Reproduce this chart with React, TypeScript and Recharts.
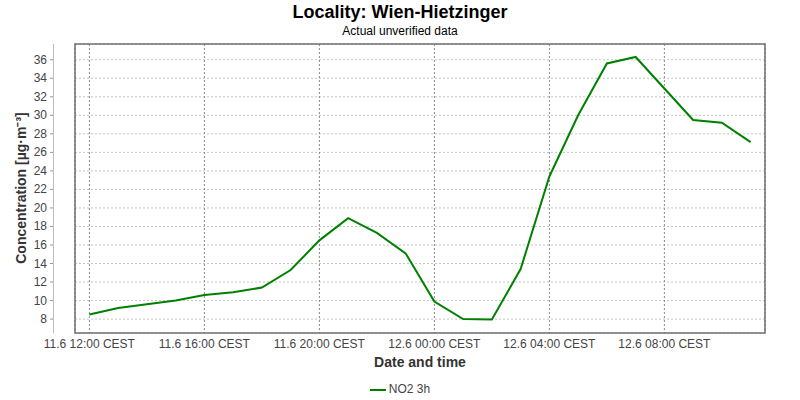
import React from 'react';
import {
	LineChart,
	Line,
	XAxis,
	YAxis,
	CartesianGrid,
	ReferenceArea,
} from 'recharts';

// hourly timestamps (CEST) and NO2 3h concentration values
const TIMES = [
	'11.6 12:00', '11.6 13:00', '11.6 14:00', '11.6 15:00', '11.6 16:00', '11.6 17:00',
	'11.6 18:00', '11.6 19:00', '11.6 20:00', '11.6 21:00', '11.6 22:00', '11.6 23:00',
	'12.6 00:00', '12.6 01:00', '12.6 02:00', '12.6 03:00', '12.6 04:00', '12.6 05:00',
	'12.6 06:00', '12.6 07:00', '12.6 08:00', '12.6 09:00', '12.6 10:00', '12.6 11:00',
];
const NO2 = [
	8.5, 9.2, 9.6, 10.0, 10.6, 10.9,
	11.4, 13.3, 16.5, 18.9, 17.3, 15.1,
	9.9, 8.0, 7.95, 13.4, 23.4, 30.0,
	35.6, 36.3, 32.9, 29.5, 29.2, 27.1,
];
const X_TICKS = [0, 4, 8, 12, 16, 20];
const Y_TICKS = [8, 10, 12, 14, 16, 18, 20, 22, 24, 26, 28, 30, 32, 34, 36];
const X_DOMAIN = [-0.5, 23.5];
const Y_DOMAIN = [6.5, 37.7];

const data = TIMES.map((t, i) => ({ h: i, time: t, no2: NO2[i] }));

const FONT = '"Liberation Sans", Arial, sans-serif';
const PLOT_LEFT = 75;
const PLOT_TOP = 44;
const PLOT_BOTTOM = 333;

const YTick = (props: any) => {
	const { y, payload } = props;
	return (
		<g>
			<line x1={50} x2={53} y1={y} y2={y} stroke="#999" />
			<text x={47} y={y + 4} textAnchor="end" fontSize={12} fill="#444" fontFamily={FONT}>
				{payload.value}
			</text>
		</g>
	);
};

const Legend = () => (
	<div
		style={{
			position: 'absolute',
			left: 0,
			top: 381,
			width: 800,
			textAlign: 'center',
			fontSize: 12,
			color: '#444',
			lineHeight: '16px',
		}}
	>
		<span
			style={{
				display: 'inline-block',
				width: 16,
				height: 2,
				background: '#008000',
				verticalAlign: 'middle',
				marginRight: 3,
			}}
		/>
		NO2 3h
	</div>
);

export default function App() {
	return (
		<div style={{ position: 'absolute', left: 0, top: 0, width: 800, height: 400, fontFamily: FONT, background: '#fff' }}>
			<div style={{ position: 'absolute', left: 0, top: 0, width: 800, textAlign: 'center', fontWeight: 'bold', fontSize: 18, lineHeight: '24px', color: '#000' }}>
				Locality: Wien-Hietzinger
			</div>
			<div style={{ position: 'absolute', left: 0, top: 24, width: 800, textAlign: 'center', fontSize: 12, lineHeight: '14px', color: '#000' }}>
				Actual unverified data
			</div>
			<LineChart
				width={800}
				height={400}
				data={data}
				margin={{ top: PLOT_TOP, right: 35, bottom: 400 - PLOT_BOTTOM - 20, left: 0 }}
			>
				<CartesianGrid horizontal={true} vertical={false} stroke="#c4c4c4" strokeDasharray="2 2" />
				<CartesianGrid horizontal={false} vertical={true} stroke="#888" strokeDasharray="2 2" />
				<XAxis
					dataKey="h"
					type="number"
					domain={X_DOMAIN}
					ticks={X_TICKS}
					interval={0}
					tickFormatter={(v: number) => `${TIMES[v]} CEST`}
					axisLine={false}
					tickLine={false}
					tickSize={4}
					tickMargin={2}
					height={20}
					tick={{ fontSize: 12, fill: '#444', fontFamily: FONT }}
				/>
				<YAxis
					type="number"
					domain={Y_DOMAIN}
					ticks={Y_TICKS}
					interval={0}
					width={PLOT_LEFT}
					axisLine={false}
					tickLine={false}
					tick={<YTick />}
					allowDataOverflow
				/>
				<ReferenceArea
					x1={X_DOMAIN[0]}
					x2={X_DOMAIN[1]}
					y1={Y_DOMAIN[0]}
					y2={Y_DOMAIN[1]}
					fill="none"
					stroke="#707070"
					strokeWidth={1.5}
				/>
				<Line
					type="linear"
					dataKey="no2"
					stroke="#008000"
					strokeWidth={2}
					dot={false}
					activeDot={false}
					isAnimationActive={false}
				/>
			</LineChart>
			{/* detached y axis line, as in the source chart */}
			<div style={{ position: 'absolute', left: 53, top: PLOT_TOP, width: 1, height: PLOT_BOTTOM - PLOT_TOP, background: '#bdbdbd' }} />
			<div style={{ position: 'absolute', left: 75, top: 354, width: 690, textAlign: 'center', fontWeight: 'bold', fontSize: 14, lineHeight: '16px', color: '#333' }}>
				Date and time
			</div>
			<div
				style={{
					position: 'absolute',
					left: 21,
					top: 188,
					transform: 'translate(-50%, -50%) rotate(-90deg)',
					whiteSpace: 'nowrap',
					fontWeight: 'bold',
					fontSize: 14,
					lineHeight: '16px',
					color: '#333',
				}}
			>
				Concentration [µg·m⁻³]
			</div>
			<Legend />
		</div>
	);
}
